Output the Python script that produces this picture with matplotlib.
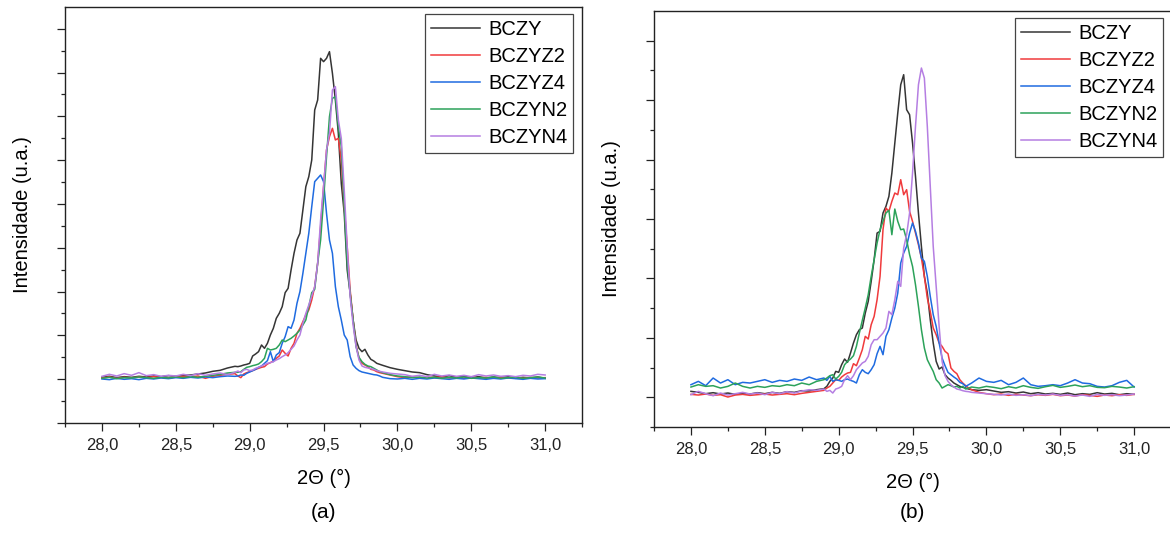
import numpy as np
import matplotlib
matplotlib.use("Agg")
import matplotlib.pyplot as plt
from matplotlib.ticker import FixedLocator, FuncFormatter

plt.rcParams['font.family'] = ['Liberation Sans', 'DejaVu Sans']

# 2-theta scan grid (deg): coarse on the baseline, fine across the peak
two_theta = np.round(np.concatenate([
    np.arange(28.00, 28.901, 0.05),
    np.arange(28.92, 29.901, 0.02),
    np.arange(29.95, 31.001, 0.05),
]), 2)

labels = ['BCZY', 'BCZYZ2', 'BCZYZ4', 'BCZYN2', 'BCZYN4']
colors = ['#353535', '#f03a3c', '#1f6be0', '#2ca25a', '#b57ee2']

# ---- panel (a) intensities (u.a.) ----
a_bczy = [137, 140, 136, 139, 137, 140, 138, 141, 139, 142, 140, 143, 144, 147, 150, 155, 158, 165, 170,
          169, 171, 174, 176, 179, 201, 207, 214, 234, 224, 239, 264, 284, 314, 329, 349, 391, 404, 459, 509,
          549, 569, 639, 709, 739, 789, 939, 969, 1094, 1084, 1094, 1114, 1049, 969, 869, 719, 629, 459, 389, 309,
          249, 224, 214, 221, 204, 191, 186, 179, 176, 173,
          166, 161, 157, 153, 151, 145, 141, 138, 142, 137, 140, 136, 139, 135, 138, 136, 139, 134, 137, 135, 138, 134]
a_bczyz2 = [135, 138, 134, 137, 135, 138, 136, 139, 137, 135, 138, 140, 138, 141, 134, 140, 143, 146, 148,
            141, 136, 147, 151, 154, 157, 161, 164, 167, 169, 177, 181, 186, 194, 201, 219, 209, 201, 224, 239,
            269, 284, 304, 324, 339, 369, 409, 479, 589, 709, 819, 859, 884, 849, 854, 789, 649, 529, 399, 309,
            234, 194, 179, 174, 169, 161, 159, 154, 151, 149,
            144, 139, 136, 139, 135, 138, 136, 139, 135, 137, 134, 138, 135, 137, 134, 137, 135, 138, 134, 137, 135, 136]
a_bczyz4 = [132, 130, 134, 131, 133, 130, 134, 132, 135, 133, 136, 134, 137, 135, 138, 136, 139, 141, 140,
            141, 144, 143, 149, 153, 157, 161, 167, 171, 179, 187, 214, 184, 204, 211, 239, 259, 289, 284, 309,
            359, 394, 449, 509, 569, 649, 724, 734, 744, 724, 629, 549, 509, 409, 349, 309, 264, 249, 199, 174,
            164, 157, 153, 151, 149, 147, 145, 144, 141, 137,
            133, 132, 134, 131, 134, 132, 135, 133, 131, 134, 132, 135, 133, 131, 134, 132, 135, 133, 131, 134, 132, 133]
a_bczyn2 = [134, 137, 133, 136, 135, 138, 136, 134, 137, 135, 138, 136, 139, 137, 140, 143, 146, 150, 152,
            152, 154, 161, 167, 169, 172, 174, 177, 184, 194, 224, 219, 221, 224, 234, 249, 244, 249, 254, 261,
            269, 279, 294, 309, 349, 391, 401, 479, 549, 669, 799, 919, 974, 979, 889, 829, 649, 479, 389, 309,
            229, 197, 184, 176, 171, 169, 164, 159, 154, 151,
            145, 141, 139, 136, 138, 135, 137, 134, 137, 135, 138, 134, 136, 135, 138, 134, 136, 137, 134, 136, 138, 135]
a_bczyn4 = [140, 146, 141, 148, 143, 151, 142, 145, 140, 143, 141, 146, 142, 148, 143, 147, 150, 145, 152,
            156, 151, 159, 161, 157, 159, 164, 167, 171, 175, 179, 181, 184, 189, 193, 199, 204, 211, 221, 231,
            249, 264, 299, 329, 354, 381, 409, 479, 609, 709, 819, 869, 999, 1009, 909, 854, 699, 529, 379, 294,
            229, 189, 171, 167, 165, 163, 161, 157, 155, 153,
            149, 147, 145, 140, 143, 139, 146, 141, 144, 140, 143, 139, 145, 141, 144, 140, 142, 139, 143, 141, 146, 144]

# ---- panel (b) intensities (u.a.) ----
b_bczy = [107, 104, 100, 103, 99, 102, 98, 101, 99, 103, 100, 104, 101, 106, 104, 109, 108, 112, 115,
          122, 137, 147, 167, 164, 187, 204, 194, 222, 252, 277, 292, 297, 342, 377, 437, 502, 582, 587, 642,
          662, 692, 762, 852, 942, 1027, 1057, 952, 937, 852, 752, 642, 542, 452, 402, 322, 252, 197, 174, 180,
          157, 147, 140, 132, 127, 122, 119, 117, 114, 112,
          110, 112, 108, 104, 106, 102, 105, 100, 103, 99, 101, 98, 102, 97, 100, 98, 103, 99, 101, 97, 100, 98]
b_bczyz2 = [98, 96, 99, 95, 97, 90, 96, 98, 95, 97, 99, 96, 98, 100, 97, 101, 104, 107, 110,
            117, 122, 132, 142, 140, 150, 157, 162, 164, 190, 184, 207, 232, 272, 264, 307, 332, 382, 452, 592,
            657, 647, 677, 702, 697, 742, 697, 712, 647, 617, 582, 547, 507, 452, 387, 347, 297, 277, 252, 242,
            227, 220, 177, 167, 160, 142, 132, 124, 117, 112,
            104, 100, 97, 99, 95, 98, 96, 94, 97, 95, 98, 94, 96, 93, 97, 95, 92, 96, 94, 97, 95, 98]
b_bczyz4 = [127, 137, 124, 147, 132, 142, 127, 134, 132, 137, 142, 134, 140, 137, 144, 140, 150, 142, 147,
            140, 152, 137, 142, 140, 137, 142, 144, 140, 137, 132, 157, 172, 164, 160, 172, 187, 220, 242, 217,
            272, 292, 327, 357, 402, 492, 522, 542, 582, 612, 587, 552, 507, 497, 452, 392, 337, 302, 252, 207,
            184, 164, 157, 150, 144, 134, 130, 122, 127, 132,
            147, 137, 134, 140, 127, 134, 147, 127, 122, 124, 127, 124, 132, 142, 132, 130, 122, 120, 124, 134, 140, 120]
b_bczyn2 = [120, 127, 122, 124, 117, 122, 132, 122, 117, 122, 119, 124, 122, 127, 124, 132, 127, 137, 142,
            147, 154, 157, 144, 152, 164, 187, 197, 204, 214, 242, 282, 320, 357, 397, 452, 502, 552, 592, 617,
            642, 650, 577, 654, 617, 592, 594, 562, 517, 482, 427, 362, 292, 237, 202, 184, 167, 142, 132, 117,
            122, 127, 124, 120, 122, 117, 122, 114, 117, 120,
            117, 122, 119, 115, 121, 117, 124, 119, 116, 121, 125, 119, 122, 126, 121, 124, 119, 118, 122, 120, 117, 121]
b_bczyn4 = [97, 107, 100, 94, 102, 96, 100, 104, 99, 102, 97, 104, 100, 106, 102, 108, 112, 110, 114,
            107, 110, 102, 114, 117, 122, 142, 154, 142, 154, 172, 182, 192, 197, 212, 247, 262, 262, 272, 282,
            297, 347, 337, 382, 437, 422, 537, 577, 642, 762, 902, 1027, 1077, 1047, 902, 722, 542, 422, 302, 197,
            154, 137, 127, 120, 114, 112, 109, 107, 106, 104,
            102, 100, 98, 96, 99, 95, 97, 94, 98, 96, 99, 95, 97, 93, 96, 92, 98, 95, 97, 94, 96, 99]

panel_a = [a_bczy, a_bczyz2, a_bczyz4, a_bczyn2, a_bczyn4]
panel_b = [b_bczy, b_bczyz2, b_bczyz4, b_bczyn2, b_bczyn4]

fig = plt.figure(figsize=(11.7, 5.46), dpi=100)
ax_a = fig.add_axes([0.0556, 0.2253, 0.4419, 0.7619])
ax_b = fig.add_axes([0.5590, 0.2179, 0.4419, 0.7619])

comma = FuncFormatter(lambda v, p: f"{v:.1f}".replace('.', ','))

setups = [
    (ax_a, panel_a, '(a)', 131.4, 0.0, 0.983),
    (ax_b, panel_b, '(b)', 178.3, 89.15, 0.985),
]

for ax, series, tag, step, offset, leg_x in setups:
    for ys, lab, col in zip(series, labels, colors):
        ax.plot(two_theta, ys, color=col, lw=1.1, label=lab)
    ax.set_xlim(27.75, 31.25)
    ax.set_ylim(0, 1248)
    ax.xaxis.set_major_locator(FixedLocator(np.arange(28.0, 31.01, 0.5)))
    ax.xaxis.set_minor_locator(FixedLocator(np.arange(27.75, 31.3, 0.25)))
    ax.xaxis.set_major_formatter(comma)
    ax.yaxis.set_major_locator(FixedLocator(np.arange(offset, 1249, step)))
    ax.yaxis.set_minor_locator(FixedLocator(np.arange(offset + step / 2 if offset == 0 else 0, 1249, step)))
    ax.yaxis.set_major_formatter(FuncFormatter(lambda v, p: ''))
    ax.tick_params(which='both', direction='out', top=False, right=False, colors='#222222', width=0.9)
    ax.tick_params(which='major', length=5.5, labelsize=12, pad=5.5)
    ax.tick_params(which='minor', length=3)
    ax.tick_params(axis='y', which='major', length=6)
    for sp in ax.spines.values():
        sp.set_color('#222222')
        sp.set_linewidth(1.0)
    ax.set_xlabel('2\u0398 (\u00b0)', fontsize=14.5, labelpad=11)
    ax.set_ylabel('Intensidade (u.a.)', fontsize=14.5, labelpad=12)
    leg = ax.legend(loc='upper right', bbox_to_anchor=(leg_x, 0.983), fontsize=14.5,
                    frameon=True, fancybox=False, edgecolor='#444444', framealpha=1,
                    handlelength=2.45, handletextpad=0.4, labelspacing=0.4,
                    borderpad=0.3, borderaxespad=0)
    leg.get_frame().set_linewidth(0.9)
    bb = ax.get_position()
    fig.text(bb.x0 + bb.width / 2, 0.062, tag, ha='center', va='center', fontsize=15)

fig.savefig('out.png', dpi=100)
